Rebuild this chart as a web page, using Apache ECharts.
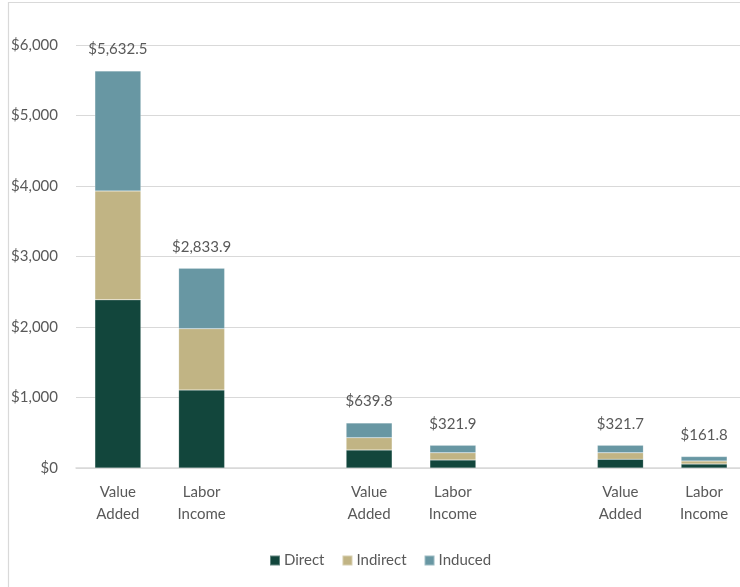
<!DOCTYPE html>
<html>
<head>
<meta charset="utf-8">
<script src="https://cdn.jsdelivr.net/npm/echarts@6/dist/echarts.min.js"></script>
<style>
  html, body { margin: 0; padding: 0; background: #fff; overflow: hidden; }
  #chart { width: 764px; height: 587px; }
</style>
</head>
<body>
<div id="chart"></div>
<script>
// Impact categories; blank slots separate the three groups
const categories = ['Value\nAdded', 'Labor\nIncome', '', 'Value\nAdded', 'Labor\nIncome', '', 'Value\nAdded', 'Labor\nIncome'];

// Impact components (millions of dollars)
const direct   = [2385.0, 1106.0, null, 255.0, 115.0, null, 125.0, 55.0];
const indirect = [1545.0,  870.0, null, 175.0, 100.0, null,  90.0, 45.0];
const induced  = [1702.5,  857.9, null, 209.8, 106.9, null, 106.7, 61.8];

const yTicks = [0, 1000, 2000, 3000, 4000, 5000, 6000];

const seriesNames = ['Direct', 'Indirect', 'Induced'];
const colors = ['#12463C', '#C1B484', '#6897A3'];

const fontFamily = 'Lato, "Open Sans", sans-serif';
const textColor = '#595959';

function fmtMoney(v, digits) {
  return '$' + v.toLocaleString('en-US', { minimumFractionDigits: digits, maximumFractionDigits: digits });
}

// Stack totals shown above each column
const totals = categories.map((_, i) =>
  direct[i] == null ? null : direct[i] + indirect[i] + induced[i]
);

const chart = echarts.init(document.getElementById('chart'), null, { renderer: 'canvas' });

const dataSets = [direct, indirect, induced];
const series = dataSets.map((arr, k) => ({
  name: seriesNames[k],
  type: 'bar',
  stack: 'impact',
  barWidth: 46,
  data: arr,
  itemStyle: { color: colors[k], borderColor: 'rgba(255,255,255,0.35)', borderWidth: 0.5 },
  emphasis: { disabled: true },
  label: k === 2 ? {
    show: true,
    position: 'top',
    distance: 14,
    fontFamily: fontFamily,
    fontSize: 15,
    color: textColor,
    formatter: p => totals[p.dataIndex] == null ? '' : fmtMoney(totals[p.dataIndex], 1)
  } : { show: false }
}));

chart.setOption({
  animation: false,
  backgroundColor: '#fff',
  textStyle: { fontFamily: fontFamily },
  graphic: [{
    type: 'rect',
    silent: true,
    shape: { x: 8.5, y: 2.5, width: 900, height: 800 },
    style: { fill: 'none', stroke: '#d9d9d9', lineWidth: 1.2 }
  }],
  grid: { left: 76, top: 45, width: 670, height: 423, containLabel: false },
  legend: {
    bottom: 14,
    left: 264,
    itemWidth: 10,
    itemHeight: 10,
    itemGap: 17,
    icon: 'rect',
    selectedMode: false,
    textStyle: { fontFamily: fontFamily, fontSize: 15, color: textColor, padding: [0, 0, 0, -1] },
    data: seriesNames
  },
  xAxis: {
    type: 'category',
    data: categories,
    axisLine: { show: true, lineStyle: { color: '#d9d9d9', width: 1.5 } },
    axisTick: { show: false },
    axisLabel: {
      interval: 0,
      margin: 13,
      fontFamily: fontFamily,
      fontSize: 15,
      lineHeight: 22,
      color: textColor
    }
  },
  yAxis: {
    type: 'value',
    min: yTicks[0],
    max: yTicks[yTicks.length - 1],
    interval: yTicks[1] - yTicks[0],
    axisLine: { show: false },
    axisTick: { show: false },
    splitLine: { lineStyle: { color: '#d9d9d9', width: 1.2 } },
    axisLabel: {
      margin: 18,
      fontFamily: fontFamily,
      fontSize: 15,
      color: textColor,
      formatter: v => fmtMoney(v, 0)
    }
  },
  series: series
});
</script>
</body>
</html>
